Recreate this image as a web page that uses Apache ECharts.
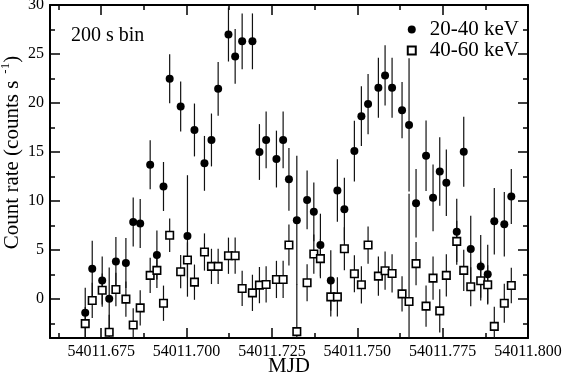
<!DOCTYPE html>
<html>
<head>
<meta charset="utf-8">
<script src="https://cdn.jsdelivr.net/npm/echarts@6/dist/echarts.min.js"></script>
<style>
    html, body { margin: 0; padding: 0; background: #fff; }
    #chart { width: 564px; height: 374px; }
</style>
</head>
<body>
<div id="chart"></div>
<script>
// 200 s bins, MJD
var mjd = [
    54011.67032, 54011.67237, 54011.67529, 54011.67734, 54011.67930, 54011.68223, 54011.68437, 54011.68642,
    54011.68934, 54011.69131, 54011.69324, 54011.69505, 54011.69827, 54011.70026, 54011.70231, 54011.70524,
    54011.70729, 54011.70925, 54011.71227, 54011.71423, 54011.71628, 54011.71929, 54011.72134, 54011.72330,
    54011.72632, 54011.72828, 54011.72998, 54011.73229, 54011.73530, 54011.73727, 54011.73920, 54011.74224,
    54011.74417, 54011.74622, 54011.74915, 54011.75120, 54011.75316, 54011.75618, 54011.75814, 54011.76019,
    54011.76311, 54011.76516, 54011.76721, 54011.77014, 54011.77219, 54011.77415, 54011.77608, 54011.77913,
    54011.78118, 54011.78323, 54011.78615, 54011.78820, 54011.79013, 54011.79306, 54011.79511
];
// 20-40 keV
var rateLow = [
    -1.43, 3.07, 1.87, 0.0, 3.82, 3.65, 7.85, 7.68, 13.69, 4.47, 11.47, 22.47, 19.63, 6.42, 17.24, 13.83,
    16.22, 21.44, 26.98, 24.75, 26.29, 26.29, 14.99, 16.22, 14.27, 16.22, 12.2, 8.02, 10.1, 8.88, 5.49, 1.87,
    11.06, 9.15, 15.09, 18.65, 19.88, 21.55, 22.81, 21.55, 19.26, 17.76, 9.76, 14.61, 10.31, 13.0, 11.85, 6.86,
    15.02, 5.08, 3.31, 2.52, 7.92, 7.61, 10.45
];
var errLow = [
    2.55, 2.85, 2.45, 3.2, 2.5, 2.55, 2.5, 2.5, 2.5, 2.5, 2.5, 2.5, 2.55, 6.2, 2.7, 2.8,
    2.7, 2.75, 2.75, 2.8, 2.85, 2.85, 2.85, 2.9, 2.9, 2.9, 3.2, 6.6, 3.0, 3.0, 3.2, 3.1,
    3.2, 3.2, 3.1, 3.05, 3.07, 3.07, 3.07, 3.07, 2.87, 6.8, 3.5, 3.6, 3.4, 3.5, 3.4, 3.37,
    3.58, 3.4, 3.2, 3.0, 3.4, 3.3, 2.8
];
// 40-60 keV
var rateHigh = [
    -2.53, -0.17, 0.88, -3.42, 0.95, -0.03, -2.67, -0.92, 2.39, 2.9, -0.45, 6.49, 2.77, 3.96, 1.70, 4.78,
    3.31, 3.31, 4.4, 4.4, 1.06, 0.61, 1.40, 1.47, 1.98, 1.98, 5.49, -3.35, 1.64, 4.57, 4.1, 0.2,
    0.2, 5.12, 2.56, 1.43, 5.49, 2.32, 2.87, 2.59, 0.51, -0.28, 3.59, -0.75, 2.11, -1.23, 2.39, 5.87,
    2.9, 1.23, 1.84, 1.43, -2.81, -0.45, 1.36
];
var errHigh = [
    1.7, 1.8, 1.7, 1.8, 1.7, 1.8, 1.7, 1.8, 1.8, 1.8, 1.8, 1.7, 1.7, 1.8, 1.8, 1.9,
    1.8, 1.8, 1.85, 1.85, 1.8, 1.85, 1.85, 1.85, 1.9, 1.9, 2.1, 4.8, 1.9, 2.0, 2.0, 2.0,
    2.0, 2.2, 1.9, 1.9, 1.9, 2.0, 1.95, 1.95, 1.8, 11.0, 2.2, 2.1, 2.2, 2.2, 2.15, 2.1,
    2.1, 2.0, 2.0, 2.0, 2.0, 2.0, 1.8
];

// 刻度
var xMajor = [54011.675, 54011.700, 54011.725, 54011.750, 54011.775, 54011.800];
var xMinor = [54011.6625, 54011.6875, 54011.7125, 54011.7375, 54011.7625, 54011.7875];
var yMajor = [0, 5, 10, 15, 20, 25, 30];
var yMinor = [-2.5, 2.5, 7.5, 12.5, 17.5, 22.5, 27.5];

var FONT = 'Liberation Serif';

var chart = echarts.init(document.getElementById('chart'), null, { renderer: 'canvas' });

function xAxisOf(pos, ticks, len, main, labels) {
    return {
        type: 'value', position: pos, min: 54011.66, max: 54011.80,
        axisLine: { show: main, onZero: false, lineStyle: { color: '#000', width: 2 } },
        axisTick: { show: true, inside: true, length: len, customValues: ticks, lineStyle: { color: '#000', width: 1.5 } },
        axisLabel: labels ? {
            show: true, customValues: ticks, margin: 6, color: '#000', fontFamily: FONT, fontSize: 16,
            formatter: function (v) { return v.toFixed(3); }
        } : { show: false },
        splitLine: { show: false },
        name: labels ? 'MJD' : '',
        nameLocation: 'middle', nameGap: 18, nameMoveOverlap: false,
        nameTextStyle: { color: '#000', fontFamily: FONT, fontSize: 21 }
    };
}

function yAxisOf(pos, ticks, len, main, labels) {
    return {
        type: 'value', position: pos, min: -4, max: 30,
        axisLine: { show: main, onZero: false, lineStyle: { color: '#000', width: 2 } },
        axisTick: { show: true, inside: true, length: len, customValues: ticks, lineStyle: { color: '#000', width: 1.5 } },
        axisLabel: labels ? {
            show: true, customValues: ticks, margin: 6, color: '#000', fontFamily: FONT, fontSize: 16
        } : { show: false },
        splitLine: { show: false },
        name: labels ? 'Count rate (counts s{sup|-1})' : '',
        nameLocation: 'middle', nameGap: 25, nameMoveOverlap: false,
        nameTextStyle: {
            color: '#000', fontFamily: FONT, fontSize: 21, padding: [0, 0, 0, 38],
            rich: { sup: { fontFamily: FONT, fontSize: 13, verticalAlign: 'bottom', padding: [0, 0, 13, 7], color: '#000' } }
        }
    };
}

// 误差棒
function errorSeries(vals, errs) {
    return {
        type: 'custom',
        xAxisIndex: 0, yAxisIndex: 0,
        silent: true, z: 1,
        data: mjd.map(function (t, i) { return [t, vals[i] - errs[i], vals[i] + errs[i]]; }),
        encode: { x: 0, y: [1, 2] },
        renderItem: function (params, api) {
            var lo = api.coord([api.value(0), api.value(1)]);
            var hi = api.coord([api.value(0), api.value(2)]);
            var cs = params.coordSys;
            var top = Math.max(hi[1], cs.y);
            var bot = Math.min(lo[1], cs.y + cs.height);
            return {
                type: 'line',
                shape: { x1: lo[0], y1: top, x2: lo[0], y2: bot },
                style: { stroke: '#111', lineWidth: 1.2 }
            };
        }
    };
}

var option = {
    animation: false,
    backgroundColor: '#fff',
    grid: { left: 50, right: 36, top: 5, bottom: 36, outerBoundsMode: 'none' },
    title: {
        text: '200 s bin', left: 71, top: 26, padding: 0,
        textStyle: { color: '#000', fontFamily: FONT, fontSize: 20, fontWeight: 'normal' }
    },
    legend: {
        orient: 'vertical', right: 40, top: 14, itemGap: 0,
        itemWidth: 8, itemHeight: 8,
        textStyle: { color: '#000', fontFamily: FONT, fontSize: 21, lineHeight: 19, padding: [0, 0, 0, 9] },
        data: ['20-40 keV', '40-60 keV']
    },
    xAxis: [
        xAxisOf('bottom', xMajor, 10, true, true),
        xAxisOf('bottom', xMinor, 5, false, false),
        xAxisOf('top', xMajor, 10, true, false),
        xAxisOf('top', xMinor, 5, false, false)
    ],
    yAxis: [
        yAxisOf('left', yMajor, 10, true, true),
        yAxisOf('left', yMinor, 5, false, false),
        yAxisOf('right', yMajor, 10, true, false),
        yAxisOf('right', yMinor, 5, false, false)
    ],
    series: [
        errorSeries(rateLow, errLow),
        errorSeries(rateHigh, errHigh),
        {
            name: '20-40 keV', type: 'scatter', z: 3,
            symbol: 'circle', symbolSize: 8,
            itemStyle: { color: '#000', opacity: 1 },
            data: mjd.map(function (t, i) { return [t, rateLow[i]]; })
        },
        {
            name: '40-60 keV', type: 'scatter', z: 3,
            symbol: 'rect', symbolSize: 7.5,
            itemStyle: { color: '#fff', borderColor: '#000', borderWidth: 1.6, opacity: 1 },
            data: mjd.map(function (t, i) { return [t, rateHigh[i]]; })
        }
    ]
};

chart.setOption(option);
</script>
</body>
</html>
